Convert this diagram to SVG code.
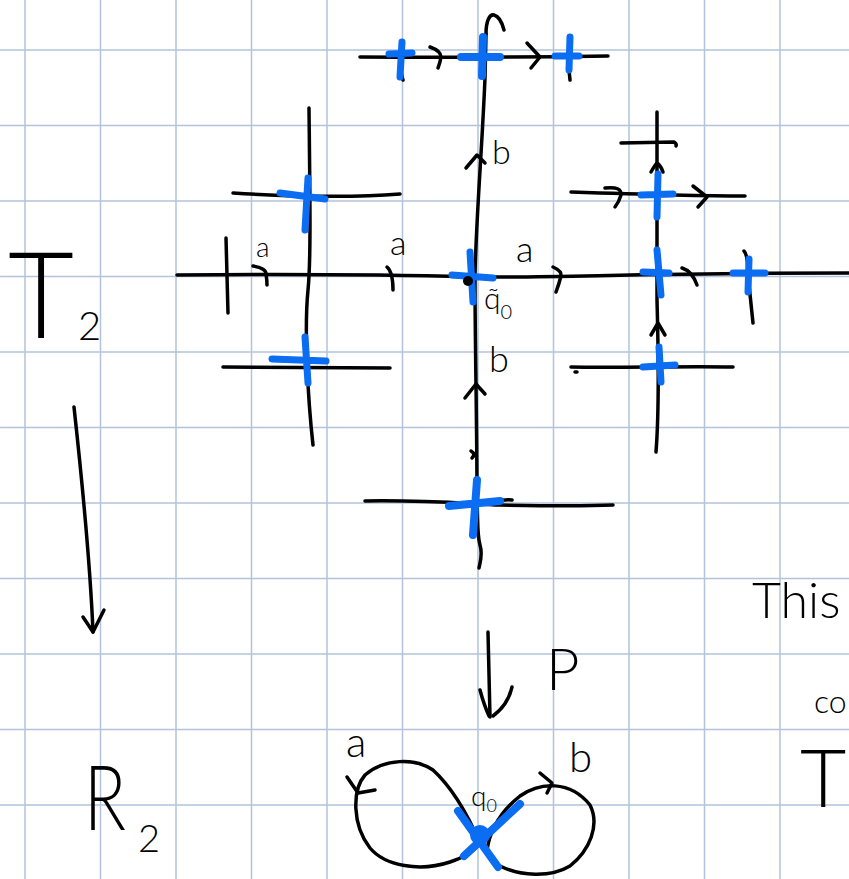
<svg xmlns="http://www.w3.org/2000/svg" width="849" height="879" viewBox="0 0 849 879">
<style>
.grid{stroke:#b3c3dc;stroke-width:1.5;fill:none}
.ink{stroke:#000;stroke-width:3.5;fill:none;stroke-linecap:round;stroke-linejoin:round}
.blue{stroke:#0a6df2;stroke-width:7;fill:none;stroke-linecap:round}
.lbl{font-family:Lato,"Liberation Sans",sans-serif;font-weight:300;fill:#000}
</style>
<rect width="849" height="879" fill="#fff"/>
<g id="grid" class="grid">
<path d="M25,0V879M100.5,0V879M176,0V879M251.5,0V879M327,0V879M402.5,0V879M478,0V879M553.5,0V879M629,0V879M704.5,0V879M780,0V879"/>
<path d="M0,50H849M0,125.5H849M0,201H849M0,276.5H849M0,352H849M0,427.5H849M0,503H849M0,578.5H849M0,654H849M0,729.5H849M0,805H849"/>
</g>
<g id="connectors" class="ink">
<path d="M360,57 Q480,58 608,56"/>
<path d="M401,70 Q402,77 403,80M569,70 L570,80"/>
<path d="M430,47 Q441,51 441,57 Q440,63 438,68"/>
<path d="M527,43 L540,57 L531,68"/>
<path d="M486,34 C486,20 490,14 494,15 C498,16 502,22 504,30"/>
<path d="M486,34 L485,78 C482,150 476,220 475,276 C475,350 477,420 477,500 C478,520 477,535 480,545 C483,555 480,562 479,568"/>
<path d="M466,168 L477,155 L485,163"/>
<path d="M465,398 L476,384 L485,394"/>
<path d="M471,451 Q476,454 472,458"/>
<path d="M177,275 C300,274 400,275 470,277 C560,278 640,273 849,273"/>
<path d="M226,238 L228,313"/>
<path d="M253,266 Q266,268 266,274 Q267,280 267,285"/>
<path d="M387,267 Q393,272 393,290"/>
<path d="M553,267 Q562,271 561,276 Q559,284 556,292"/>
<path d="M682,268 Q692,271 697,285"/>
<path d="M309,108 C310,200 311,260 308,290 C304,330 308,400 313,445"/>
<path d="M233,193 C300,197 350,198 400,194"/>
<path d="M223,367 L390,368"/>
<path d="M365,501 C430,500 470,504 500,505 C550,506 590,506 613,505"/>
<path d="M496,502 Q505,499 512,500"/>
<path d="M657,112 L657,300 C658,340 660,400 656,452"/>
<path d="M621,143 L674,142 Q677,144 676,146"/>
<path d="M651,172 Q655,165 657,163 Q661,166 663,172"/>
<path d="M571,192 C630,194 700,196 745,196"/>
<path d="M605,188 Q622,186 621,195 Q619,202 615,207"/>
<path d="M693,186 L707,197 L698,207"/>
<path d="M744,251 Q748,255 748,275 L753,323"/>
<path d="M651,335 L658,323 L665,335"/>
<path d="M571,367 C620,368 680,366 733,367"/>
<path d="M575,372 L577,372"/>
<path d="M74,407 C82,480 90,560 93,632"/>
<path d="M83,617 L93,632 L104,610"/>
<path d="M488,632 L490,717"/>
<path d="M480,690 Q484,705 489,716 M512,687 Q508,705 493,716"/>
<path d="M480,843 C470,820 455,790 433,770 C415,758 385,758 365,775 C352,790 352,825 370,848 C385,866 420,872 450,862 C465,857 475,850 480,843"/>
<path d="M487,850 C490,830 500,812 520,796 C540,782 570,780 590,805 C600,825 590,850 570,866 C550,878 520,876 500,866 C492,860 488,856 487,850"/>
<path d="M347,777 L358,793 L375,790"/>
<path d="M540,773 L552,783 L547,793"/>
</g>
<g id="node-top-left" class="blue"><path d="M389,54 L412,53M402,42 L400,77"/></g>
<g id="node-top-mid" class="blue" style="stroke-width:8"><path d="M461,57 L500,57M483,37 L482,76"/></g>
<g id="node-top-right" class="blue"><path d="M555,56 L579,56M570,37 L569,70"/></g>
<g id="node-left-upper" class="blue"><path d="M280,193 L325,199M308,178 L305,230"/></g>
<g id="node-left-lower" class="blue"><path d="M272,359 L326,361M305,337 L308,383"/></g>
<g id="node-centre"><path class="blue" d="M452,275 L493,278M470,252 L473,302"/><circle cx="468" cy="281" r="5" fill="#000"/></g>
<g id="node-bottom" class="blue" style="stroke-width:8"><path d="M449,506 L500,501M477,480 L473,535"/></g>
<g id="node-right-upper" class="blue"><path d="M641,195 L673,194M658,174 L657,217"/></g>
<g id="node-right-mid" class="blue"><path d="M643,272 L669,273M657,250 L661,295"/></g>
<g id="node-far-right" class="blue"><path d="M733,273 L765,273M749,259 L748,292"/></g>
<g id="node-right-lower" class="blue"><path d="M643,367 L675,365M659,347 L661,382"/></g>
<g id="node-base"><path class="blue" style="stroke-width:8" d="M458,811 L498,867M464,856 L520,804"/><circle cx="480" cy="835" r="10" fill="#0a6df2"/></g>
<g id="labels" class="lbl">
<text x="256" y="257" font-size="28">a</text>
<text x="390" y="255" font-size="34">a</text>
<text x="516" y="262" font-size="36">a</text>
<text x="492" y="164" font-size="34">b</text>
<text x="489" y="372" font-size="36">b</text>
<text x="484" y="309" font-size="30">q̃<tspan font-size="20" dy="10">0</tspan></text>
<text x="546" y="690" font-size="58">P</text>
<text x="346" y="757" font-size="42">a</text>
<text x="569" y="772" font-size="42">b</text>
<text x="471" y="806" font-size="28">q<tspan font-size="18" dy="6">0</tspan></text>
<text x="8" y="338" font-size="120" textLength="66" lengthAdjust="spacingAndGlyphs">T</text>
<text x="78" y="340" font-size="40">2</text>
<text x="84" y="830" font-size="90" textLength="42" lengthAdjust="spacingAndGlyphs">R</text>
<text x="138" y="852" font-size="38">2</text>
<text x="752" y="618" font-size="50">This</text>
<text x="814" y="713" font-size="32">co</text>
<text x="800" y="807" font-size="80">T</text>
</g>
</svg>
